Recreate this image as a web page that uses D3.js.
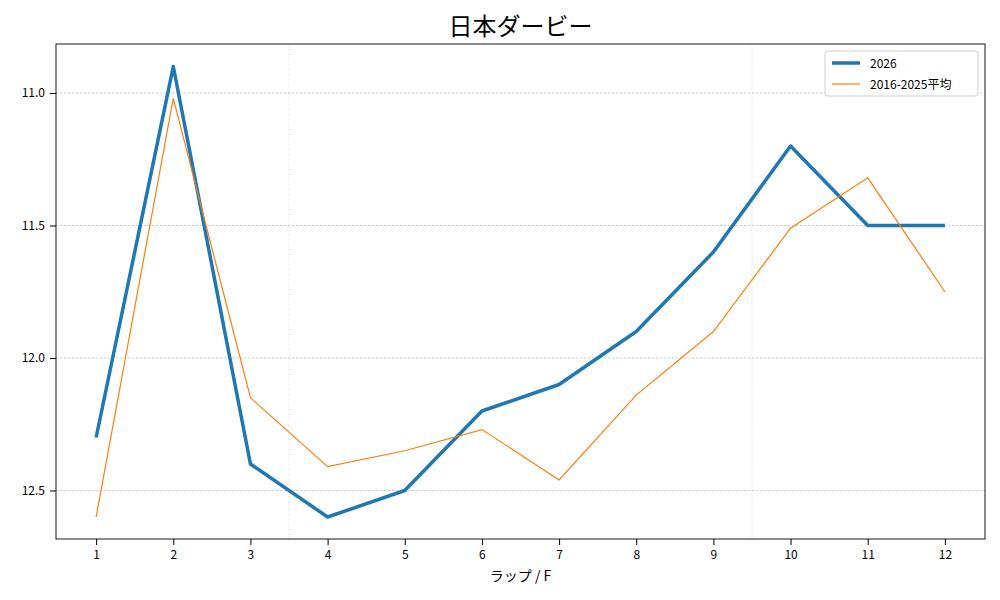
<!DOCTYPE html>
<html><head><meta charset="utf-8">
<script src="https://cdn.jsdelivr.net/npm/d3@7"></script>
<style>
body{margin:0;background:#fff;font-family:"Noto Sans CJK JP","DejaVu Sans",sans-serif;}
.tick text{font-size:12px;font-family:"Noto Sans CJK JP","DejaVu Sans",sans-serif;fill:#000;}
</style></head>
<body><div id="chart"></div>
<script>
const laps = [1,2,3,4,5,6,7,8,9,10,11,12];
const lap2026 = [12.3,10.9,12.4,12.6,12.5,12.2,12.1,11.9,11.6,11.2,11.5,11.5];
const lapAvg = [12.6,11.02,12.15,12.41,12.35,12.27,12.46,12.14,11.9,11.51,11.32,11.75];
const yTicks = [11.0,11.5,12.0,12.5];
const sectionBreaks = [3.5,9.5];

const width = 1000, height = 600,
    margin = {top: 44, right: 15, bottom: 61, left: 56};

const svg = d3.select("#chart").append("svg")
    .attr("width", width).attr("height", height);

const x = d3.scaleLinear().domain([0.48, 12.52]).range([margin.left, width - margin.right]);
const y = d3.scaleLinear().domain([10.815, 12.683]).range([margin.top, height - margin.bottom]);

// grid
svg.append("g").selectAll("line").data(yTicks).join("line")
    .attr("x1", margin.left).attr("x2", width - margin.right)
    .attr("y1", d => y(d)).attr("y2", d => y(d))
    .attr("stroke", "#b0b0b0").attr("stroke-width", 0.6).attr("stroke-dasharray", "2.5,1.5");
svg.append("g").selectAll("line").data(sectionBreaks).join("line")
    .attr("x1", d => x(d)).attr("x2", d => x(d))
    .attr("y1", margin.top).attr("y2", height - margin.bottom)
    .attr("stroke", "#c8c8c8").attr("stroke-width", 0.6).attr("stroke-dasharray", "1,1.5");

const line = d3.line().x((d, i) => x(laps[i])).y(d => y(d));

svg.append("path").datum(lap2026).attr("d", line)
    .attr("fill", "none").attr("stroke", "#1f77b4").attr("stroke-width", 3.5)
    .attr("stroke-linejoin", "round");
svg.append("path").datum(lapAvg).attr("d", line)
    .attr("fill", "none").attr("stroke", "#ff7f0e").attr("stroke-width", 1.2);

// frame
svg.append("rect").attr("x", margin.left).attr("y", margin.top)
    .attr("width", width - margin.left - margin.right)
    .attr("height", height - margin.top - margin.bottom)
    .attr("fill", "none").attr("stroke", "#000").attr("stroke-width", 0.9);

svg.append("g").attr("transform", `translate(0,${height - margin.bottom})`)
    .call(d3.axisBottom(x).tickValues(laps).tickFormat(d3.format("d")).tickSizeOuter(0).tickPadding(5))
    .call(g => g.select(".domain").remove());
svg.append("g").attr("transform", `translate(${margin.left},0)`)
    .call(d3.axisLeft(y).tickValues(yTicks).tickFormat(d3.format(".1f")).tickSizeOuter(0).tickPadding(5))
    .call(g => g.select(".domain").remove());

svg.append("text").attr("x", (margin.left + width - margin.right) / 2).attr("y", 35)
    .attr("text-anchor", "middle").attr("font-size", 24).text("日本ダービー");
svg.append("text").attr("x", (margin.left + width - margin.right) / 2).attr("y", 581)
    .attr("text-anchor", "middle").attr("font-size", 14).text("ラップ / F");

// legend
const lg = svg.append("g").attr("transform", "translate(825,51)");
lg.append("rect").attr("width", 153).attr("height", 45).attr("rx", 3)
    .attr("fill", "#fff").attr("stroke", "#d0d0d0");
const items = [["2026", "#1f77b4", 3.5], ["2016-2025平均", "#ff7f0e", 1.2]];
items.forEach((it, i) => {
    const yy = 12 + i * 21;
    lg.append("line").attr("x1", 7).attr("x2", 35).attr("y1", yy).attr("y2", yy)
        .attr("stroke", it[1]).attr("stroke-width", it[2]);
    lg.append("text").attr("x", 45).attr("y", yy + 4.5).attr("font-size", 12).text(it[0]);
});
</script></body></html>
